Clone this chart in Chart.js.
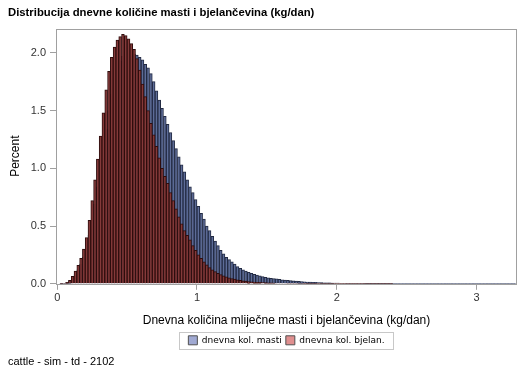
<!DOCTYPE html>
<html>
<head>
<meta charset="utf-8">
<script src="https://cdn.jsdelivr.net/npm/chart.js@4.4.0/dist/chart.umd.min.js"></script>
<style>
  html, body { margin: 0; padding: 0; background: #fff; }
  #wrap { width: 529px; height: 378px; position: relative; }
</style>
</head>
<body>
<div id="wrap"><canvas id="hist" width="529" height="378"></canvas></div>
<script>
// histogram bins: width 0.02, first bin starts at 0
const binStart = 0;
const binWidth = 0.02;

// percent per bin (0.01, 0.03, ... centers)
const mastiPct = [
    0, 0.001, 0.003, 0.008, 0.02, 0.045, 0.08, 0.12, 0.17, 0.23,
    0.31, 0.42, 0.55, 0.69, 0.84, 1.00, 1.17, 1.34, 1.50, 1.64,
    1.76, 1.86, 1.93, 1.97, 1.99, 2.00, 2.00, 1.99, 1.98, 1.96,
    1.94, 1.90, 1.87, 1.82, 1.75, 1.67, 1.59, 1.52, 1.45, 1.38,
    1.31, 1.24, 1.17, 1.10, 1.03, 0.97, 0.90, 0.84, 0.79, 0.73,
    0.67, 0.61, 0.56, 0.50, 0.46, 0.41, 0.37, 0.33, 0.29, 0.26,
    0.23, 0.21, 0.19, 0.17, 0.15, 0.135, 0.12, 0.11, 0.10, 0.09,
    0.082, 0.075, 0.068, 0.062, 0.057, 0.052, 0.048, 0.046, 0.042, 0.038,
    0.035, 0.032, 0.030, 0.028, 0.026, 0.024, 0.021, 0.019, 0.017, 0.015,
    0.014, 0.013, 0.012, 0.011, 0.010, 0.009, 0.008, 0.008, 0.007, 0.006,
    0.006, 0.005, 0.005, 0.004, 0.004, 0.004, 0.003, 0.003, 0.003, 0.003,
    0.002, 0.002, 0.002, 0.002, 0.002, 0.002, 0.002, 0.002, 0.002, 0.002,
    0.002, 0.001, 0.001, 0.001, 0.001, 0.001, 0.001, 0.001, 0.001, 0.001,
    0.001, 0.001, 0.001, 0.001, 0.001, 0.001, 0.001, 0.001, 0.001, 0.001,
    0.0005, 0.0005, 0.0005, 0.0005, 0.0005, 0.0005, 0.0005, 0.0005, 0.0005, 0.0005,
    0.0005, 0.0005, 0.0005, 0.0005, 0.0005, 0.0005, 0.0005, 0.0005, 0.0005, 0.0005,
    0.0005, 0.0005, 0.0005, 0.0005
];

const bjelanPct = [
    0, 0.001, 0.004, 0.012, 0.03, 0.065, 0.11, 0.16, 0.22, 0.30,
    0.40, 0.55, 0.72, 0.90, 1.08, 1.28, 1.48, 1.68, 1.84, 1.96,
    2.05, 2.11, 2.14, 2.16, 2.15, 2.12, 2.08, 2.03, 1.95, 1.85,
    1.73, 1.62, 1.50, 1.39, 1.29, 1.19, 1.09, 1.00, 0.93, 0.87,
    0.79, 0.72, 0.65, 0.58, 0.52, 0.46, 0.42, 0.38, 0.33, 0.29,
    0.25, 0.22, 0.19, 0.165, 0.14, 0.12, 0.105, 0.09, 0.08, 0.07,
    0.06, 0.052, 0.045, 0.04, 0.035, 0.03, 0.026, 0.023, 0.02, 0.017,
    0.015, 0.013, 0.012, 0.011, 0.010, 0.009, 0.008, 0.007, 0.006, 0.006,
    0.005, 0.005, 0.004, 0.004, 0.004, 0.003, 0.003, 0.003, 0.002, 0.002,
    0.002, 0.002, 0.002, 0.002, 0.002, 0.002, 0.002, 0.002, 0.002, 0.002,
    0.001, 0.001, 0.001, 0.001, 0.001, 0.001, 0.001, 0.001, 0.001, 0.001,
    0.001, 0.001, 0.001, 0.001, 0.001, 0.001, 0.001, 0.001, 0.001, 0.001
];

const seriesNames = ['dnevna kol. masti', 'dnevna kol. bjelan.'];
const xTicks = [0, 1, 2, 3];
const yTicks = [0, 0.5, 1.0, 1.5, 2.0];

function toPoints(arr) {
    return arr.map((v, i) => ({ x: binStart + binWidth * (i + 0.5), y: v }));
}

// gray frame round the plot area + border round the legend
const framePlugin = {
    id: 'frame',
    afterDraw(chart) {
        const ctx = chart.ctx;
        const a = chart.chartArea;
        ctx.save();
        ctx.strokeStyle = '#a0a0a0';
        ctx.lineWidth = 1;
        ctx.strokeRect(Math.round(a.left) + 0.5, Math.round(a.top) + 0.5,
            Math.round(a.right - a.left) - 1, Math.round(a.bottom - a.top));
        const lg = chart.legend;
        if (lg && lg.legendHitBoxes.length) {
            const boxes = lg.legendHitBoxes;
            const l = boxes[0].left - 9;
            const r = boxes[boxes.length - 1].left + boxes[boxes.length - 1].width + 9;
            const t = boxes[0].top - 4;
            const b = boxes[0].top + boxes[0].height + 4;
            ctx.strokeStyle = '#c8c8c8';
            ctx.strokeRect(Math.round(l) + 0.5, Math.round(t) + 0.5, Math.round(r - l), Math.round(b - t));
        }
        ctx.restore();
    }
};

const legendFill = ['#a0a9d2', '#e08f8f'];

const ctx = document.getElementById('hist').getContext('2d');
const myChart = new Chart(ctx, {
    type: 'bar',
    data: {
        datasets: [{
            label: seriesNames[0],
            data: toPoints(mastiPct),
            backgroundColor: '#5d6c98',
            borderColor: '#222a42',
            borderWidth: 1,
            barPercentage: 1,
            categoryPercentage: 1,
            grouped: false,
            order: 2
        }, {
            label: seriesNames[1],
            data: toPoints(bjelanPct),
            backgroundColor: '#853a3a',
            borderColor: '#2e0d0d',
            borderWidth: 1,
            barPercentage: 1,
            categoryPercentage: 1,
            grouped: false,
            order: 1
        }]
    },
    options: {
        responsive: false,
        animation: false,
        layout: { padding: { left: 8, right: 12, top: 0, bottom: 3 } },
        plugins: {
            title: {
                display: true,
                text: 'Distribucija dnevne količine masti i bjelančevina (kg/dan)',
                align: 'start',
                color: '#000',
                font: { family: 'Arial, "Liberation Sans", sans-serif', size: 11.3, weight: 'bold' },
                padding: { top: 6, bottom: 9 }
            },
            subtitle: {
                display: true,
                position: 'bottom',
                text: 'cattle - sim - td - 2102',
                align: 'start',
                color: '#000',
                font: { family: 'Arial, "Liberation Sans", sans-serif', size: 11 },
                padding: { top: 1, bottom: 6 }
            },
            legend: {
                position: 'bottom',
                fullSize: false,
                labels: {
                    color: '#000',
                    font: { family: '"DejaVu Sans", sans-serif', size: 9 },
                    boxWidth: 9,
                    boxHeight: 9,
                    padding: 4,
                    generateLabels(chart) {
                        return chart.data.datasets.map((d, i) => ({
                            text: d.label,
                            fillStyle: legendFill[i],
                            strokeStyle: '#505050',
                            lineWidth: 1,
                            datasetIndex: i,
                            hidden: false
                        }));
                    }
                }
            },
            tooltip: { enabled: false }
        },
        scales: {
            x: {
                type: 'linear',
                offset: false,
                min: -0.009,
                max: 3.29,
                afterBuildTicks(scale) {
                    scale.ticks = xTicks.map(v => ({ value: v }));
                },
                afterFit(scale) { scale.height = 48; },
                grid: { display: true, offset: false, drawOnChartArea: false, drawTicks: true, tickLength: 6, tickColor: '#a0a0a0' },
                border: { display: false },
                ticks: {
                    color: '#333',
                    padding: 2,
                    font: { family: 'Arial, "Liberation Sans", sans-serif', size: 11 },
                    callback: v => String(v)
                },
                title: {
                    display: true,
                    text: 'Dnevna količina mliječne masti i bjelančevina (kg/dan)',
                    color: '#000',
                    font: { family: 'Arial, "Liberation Sans", sans-serif', size: 12 },
                    padding: { top: 5, bottom: 4 }
                }
            },
            y: {
                min: 0,
                max: 2.21,
                afterBuildTicks(scale) {
                    scale.ticks = yTicks.map(v => ({ value: v }));
                },
                afterFit(scale) { scale.width = 48; },
                grid: { display: true, drawOnChartArea: false, drawTicks: true, tickLength: 6, tickColor: '#a0a0a0' },
                border: { display: false },
                ticks: {
                    color: '#333',
                    padding: 4,
                    font: { family: 'Arial, "Liberation Sans", sans-serif', size: 11 },
                    callback: v => v.toFixed(1)
                },
                title: {
                    display: true,
                    text: 'Percent',
                    color: '#000',
                    font: { family: 'Arial, "Liberation Sans", sans-serif', size: 12 },
                    padding: 0
                }
            }
        }
    },
    plugins: [framePlugin]
});
</script>
</body>
</html>
